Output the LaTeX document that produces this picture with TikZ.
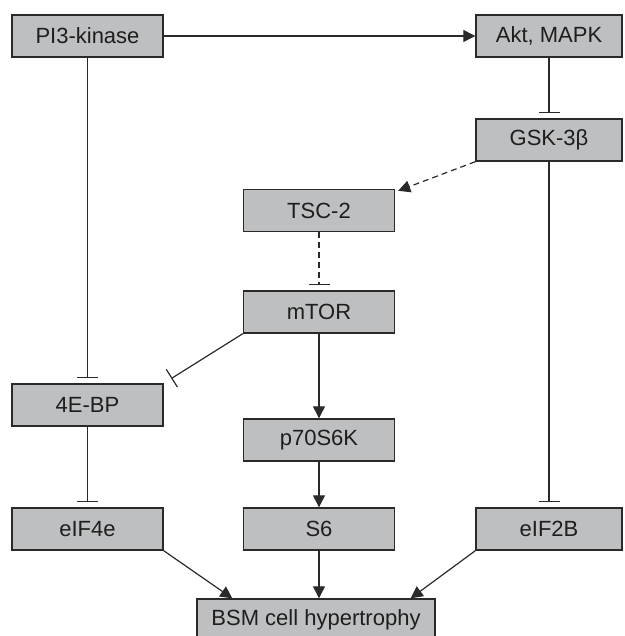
\documentclass[tikz,border=0pt]{standalone}
\usepackage{fontspec}
\setmainfont{Liberation Sans}
\usepackage{xcolor}
\usepackage{tikz}
\usetikzlibrary{arrows.meta}
\definecolor{boxgray}{HTML}{BEBFC1}
\definecolor{textdark}{HTML}{1E1E1E}
\definecolor{linedark}{HTML}{2A2A2A}

\begin{document}
\begin{tikzpicture}[x=1pt, y=-1pt,
  box/.style={draw=linedark, line width=1.4pt, fill=boxgray, minimum width=151pt,
    minimum height=42pt, inner sep=0pt, text=textdark, font=\fontsize{22}{26}\selectfont},
  act/.style={line width=1.2pt, draw=linedark, -{Triangle[length=12pt, width=12pt]}},
  inh/.style={line width=1.2pt, draw=linedark, -{Bar[width=21pt, line width=1.2pt]}, shorten >=5pt},
  dsh/.style={dash pattern=on 6pt off 4pt}]
\clip (0,0) rectangle (624,636);
% Boxes, left column
\node[box] (pi3) at (87.5,36) {PI3-kinase};
\node[box] (ebp) at (87.5,405) {4E-BP};
\node[box] (eif4e) at (87.5,529) {eIF4e};
% Boxes, middle column
\node[box] (tsc) at (319,210.5) {TSC-2};
\node[box] (mtor) at (319,312) {mTOR};
\node[box] (p70) at (319,440) {p70S6K};
\node[box] (s6) at (319,529) {S6};
% Boxes, right column
\node[box, minimum width=146pt] (akt) at (549,36) {Akt, MAPK};
\node[box, minimum width=146pt] (gsk) at (549,140) {GSK-3β};
\node[box, minimum width=146pt] (eif2b) at (549,529) {eIF2B};
% Outcome
\node[box, minimum width=238pt] (bsm) at (316,620) {BSM cell hypertrophy};
% Activation
\draw[act] (pi3) -- (akt);
\draw[act] (mtor) -- (p70);
\draw[act] (p70) -- (s6);
\draw[act] (s6.south) -- (s6.south |- bsm.north);
\draw[act] (eif4e.south east) -- ([xshift=36pt]bsm.north west);
\draw[act] (eif2b.south west) -- ([xshift=-25pt]bsm.north east);
\draw[act, dsh] (gsk.south west) -- ([shift={(3,2)}]tsc.north east);
% Inhibition
\draw[inh] (akt) -- (gsk);
\draw[inh] (pi3) -- (ebp);
\draw[inh] (ebp) -- (eif4e);
\draw[inh] (gsk) -- (eif2b);
\draw[inh, dsh] (tsc) -- (mtor);
\draw[inh, shorten >=9pt] (mtor.south west) -- (ebp.north east);
\end{tikzpicture}
\end{document}
